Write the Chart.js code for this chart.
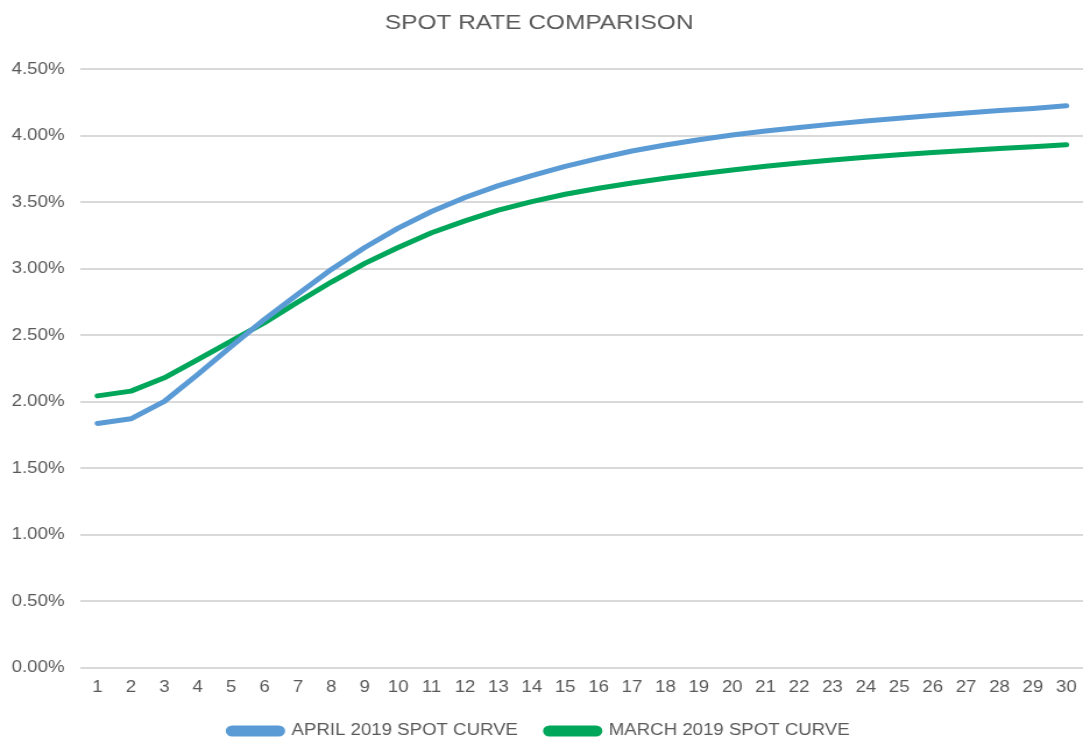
<!DOCTYPE html>
<html>
<head>
<meta charset="utf-8">
<script src="https://cdn.jsdelivr.net/npm/chart.js@4/dist/chart.umd.min.js"></script>
<style>
  html, body { margin: 0; padding: 0; background: #fff; overflow: hidden; }
  /* the source picture is stretched sideways, so draw narrower and widen */
  #wrap { width: 930px; height: 744px; transform: scaleX(1.1645); transform-origin: 0 0; }
</style>
</head>
<body>
<div id="wrap"><canvas id="chart" width="930" height="744"></canvas></div>
<script>
// maturities (years)
const maturities = [1,2,3,4,5,6,7,8,9,10,11,12,13,14,15,16,17,18,19,20,21,22,23,24,25,26,27,28,29,30];

// spot rates in %
const aprilCurve = [1.837,1.872,2.003,2.205,2.416,2.62,2.81,2.995,3.16,3.305,3.43,3.535,3.625,3.70,3.77,
  3.83,3.885,3.93,3.97,4.005,4.035,4.062,4.087,4.11,4.132,4.152,4.171,4.189,4.205,4.225];
const marchCurve = [2.044,2.08,2.18,2.317,2.456,2.595,2.75,2.90,3.04,3.16,3.27,3.36,3.44,3.505,3.56,
  3.605,3.645,3.68,3.712,3.742,3.77,3.795,3.818,3.838,3.856,3.873,3.889,3.904,3.917,3.932];

const textGrey = "#595959";
const font = "'Liberation Sans', Arial, sans-serif";

new Chart(document.getElementById("chart"), {
  type: "line",
  data: {
    labels: maturities,
    datasets: [
      {
        label: "APRIL 2019 SPOT CURVE",
        data: aprilCurve,
        borderColor: "#5b9bd5",
        backgroundColor: "#5b9bd5",
        borderWidth: 5,
        pointRadius: 0,
        tension: 0,
        borderCapStyle: "round",
        borderJoinStyle: "round",
      },
      {
        label: "MARCH 2019 SPOT CURVE",
        data: marchCurve,
        borderColor: "#00a65a",
        backgroundColor: "#00a65a",
        borderWidth: 5,
        pointRadius: 0,
        tension: 0,
        borderCapStyle: "round",
        borderJoinStyle: "round",
      },
    ],
  },
  options: {
    responsive: false,
    animation: false,
    layout: { padding: { left: -4, right: 0, top: 5, bottom: -5 } },
    plugins: {
      title: {
        display: true,
        text: "SPOT RATE COMPARISON",
        color: textGrey,
        font: { family: font, size: 21, weight: "normal" },
        padding: { top: 6, bottom: 33 },
      },
      legend: {
        position: "bottom",
        labels: {
          color: textGrey,
          font: { family: font, size: 16 },
          boxWidth: 46,
          boxHeight: 6,
          useBorderRadius: true,
          borderRadius: 3,
          padding: 24,
        },
      },
      tooltip: { enabled: false },
    },
    scales: {
      x: {
        offset: true,
        grid: { display: false },
        border: { display: false },
        ticks: { color: textGrey, font: { family: font, size: 16 }, padding: 2, maxRotation: 0 },
      },
      y: {
        min: 0,
        max: 4.5,
        grid: { color: "#d9d9d9", lineWidth: 2, drawTicks: false },
        border: { display: false },
        ticks: {
          stepSize: 0.5,
          color: textGrey,
          font: { family: font, size: 16 },
          padding: 14,
          callback: v => v.toFixed(2) + "%",
        },
      },
    },
  },
});
</script>
</body>
</html>
